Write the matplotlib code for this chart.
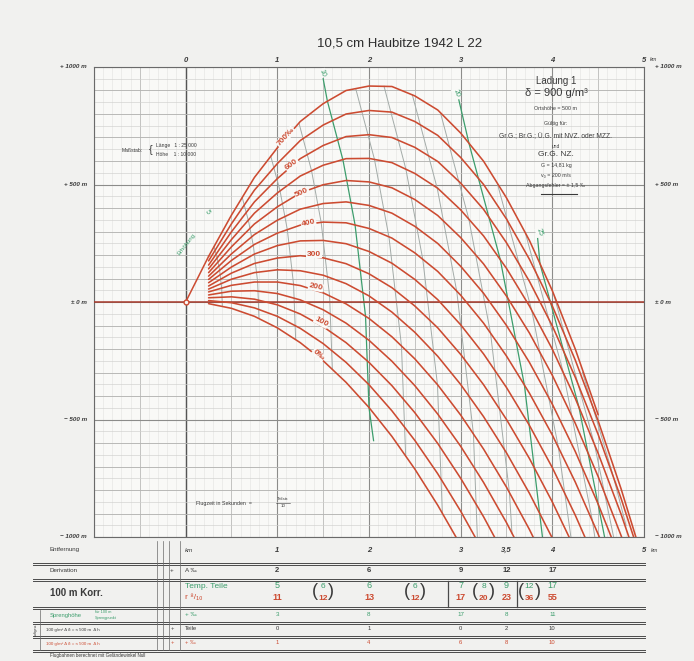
import matplotlib
matplotlib.use("Agg")
import matplotlib.pyplot as plt
import matplotlib.transforms as mtransforms
import numpy as np

plt.rcParams["font.family"] = ["Liberation Sans", "DejaVu Sans"]

TITLE = "10,5 cm Haubitze 1942 L 22"

# Flugbahnen: Erhöhung in Strich, Höhe in m bei TRAJ_X km
TRAJ_X = [0.25, 0.5, 0.75, 1.0, 1.25, 1.5, 1.75, 2.0, 2.25, 2.5,
          2.75, 3.0, 3.25, 3.5, 3.75, 4.0, 4.25, 4.5, 4.75, 5.0]
TRAJ_MILS = [0, 50, 100, 150, 200, 250, 300, 350, 400, 450, 500, 550, 600, 650, 700]
TRAJ_Y = [
    [-7, -27, -61, -110, -173, -250, -342, -449, -572, -711, -865, -1035],
    [6, -3, -25, -61, -112, -177, -257, -352, -463, -589, -731, -890, -1065],
    [18, 22, 12, -12, -51, -105, -173, -257, -356, -471, -602, -750, -914, -1095],
    [30, 46, 48, 36, 9, -33, -90, -163, -252, -356, -477, -614, -768, -939, -1127],
    [43, 71, 85, 85, 70, 39, -8, -70, -148, -242, -353, -481, -626, -788, -968, -1166],
    [55, 97, 125, 137, 133, 114, 78, 26, -43, -129, -231, -351, -488, -642, -814,
     -1005, -1215],
    [68, 123, 164, 187, 197, 188, 163, 120, 61, -17, -110, -223, -352, -500, -666,
     -851, -1055],
    [82, 149, 204, 240, 260, 262, 248, 215, 165, 96, 10, -97, -221, -364, -525,
     -705, -907, -1129],
    [96, 177, 245, 293, 327, 340, 337, 313, 272, 209, 130, 29, -90, -230, -388,
     -566, -766, -988, -1231],
    [110, 205, 287, 348, 395, 419, 426, 411, 378, 322, 249, 152, 37, -100, -257,
     -435, -636, -860, -1105],
    [125, 235, 332, 405, 464, 499, 517, 511, 486, 436, 368, 274, 162, 25, -132,
     -312, -516, -743, -994, -1268],
    [141, 266, 378, 464, 536, 582, 610, 611, 593, 547, 484, 392, 281, 143, -17,
     -201, -410, -644, -903, -1188],
    [157, 299, 426, 525, 610, 666, 704, 712, 700, 658, 598, 506, 394, 252, 88,
     -102, -320, -564, -836, -1136],
    [175, 333, 476, 589, 687, 753, 800, 815, 808, 768, 709, 615, 500, 353, 182,
     -17, -247, -506, -795, -1113],
    [194, 370, 530, 656, 768, 844, 900, 919, 917, 877, 817, 719, 599, 443, 262,
     48, -200, -480],
]

CURVE_LABELS = ["0‰", "100", "200", "300", "400", "500", "600", "700‰"]
CURVE_LABEL_X = [1.45, 1.48, 1.42, 1.40, 1.34, 1.27, 1.16, 1.09]
CURVE_LABEL_Y = [-225, -85, 64, 204, 336, 464, 583, 702]
CURVE_LABEL_ROT = [-40, -28, -12, 0, 12, 24, 36, 48]

# Flugzeitlinien (Sekunden)
ISO_T = [2, 4, 6, 8, 10, 12, 14, 16, 18, 20, 22, 24, 25, 26, 28]
ISO_X = [
    [0.309, 0.343, 0.370, 0.392, 0.400],
    [0.618, 0.686, 0.739, 0.785, 0.800],
    [0.928, 1.030, 1.109, 1.177, 1.200],
    [1.237, 1.373, 1.478, 1.570, 1.600],
    [1.500, 1.546, 1.716, 1.848, 1.962, 2.000, 2.050],
    [1.855, 2.059, 2.218, 2.354, 2.400],
    [2.164, 2.402, 2.587, 2.747, 2.800],
    [2.473, 2.746, 2.957, 3.139, 3.200],
    [2.783, 3.089, 3.326, 3.532, 3.560],
    [2.980, 3.092, 3.432, 3.696, 3.924],
    [3.401, 3.775, 4.066, 4.211],
    [3.710, 4.118, 4.436, 4.519],
    [3.840, 3.865, 4.290, 4.620],
    [4.020, 4.462, 4.739],
    [4.329, 4.656, 4.805],
]
ISO_Y = [
    [236, 188, 136, 61, -17],
    [443, 344, 238, 86, -70],
    [621, 472, 308, 75, -159],
    [760, 559, 339, 27, -285],
    [950, 855, 604, 328, -60, -450, -590],
    [908, 608, 276, -186, -654],
    [918, 566, 181, -352, -898],
    [881, 481, 46, -560, -1184],
    [800, 353, -133, -811, -986],
    [860, 673, 181, -355, -1105],
    [503, -35, -619, -1024],
    [288, -297, -928, -1147],
    [270, 163, -447, -1099],
    [26, -610, -1133],
    [-300, -729, -952],
]
GREEN_T = [10, 20, 25]
ISO_LABELS = ["10", "20", "25"]
ISO_LABEL_X = [1.49, 2.95, 3.86]
ISO_LABEL_Y = [974, 889, 298]

HEIGHT_TICKS = [1000, 500, 0, -500, -1000]
HEIGHT_LEFT = ["+ 1000 m", "+ 500 m", "± 0 m", "− 500 m", "− 1000 m"]
HEIGHT_RIGHT = ["+ 1000 m", "+ 500 m", "± 0 m", "− 500 m", "− 1000 m"]
KM_TICKS = [0, 1, 2, 3, 4]

# Tafel unter dem Bild
TAB_KM = [1, 2, 3, 3.5, 4]
TAB_KM_LABELS = ["1", "2", "3", "3,5", "4"]
TAB_DERIVATION = ["2", "6", "9", "12", "17"]
TAB_TEMP = ["5", "6", "7", "9", "17"]
TAB_R = ["11", "13", "17", "23", "55"]
TAB_MID_KM = [1.5, 2.5, 3.25, 3.75]
TAB_MID_TEMP = ["6", "6", "8", "12"]
TAB_MID_R = ["12", "12", "20", "36"]
TAB_SPRENG = ["3", "8", "17", "8", "11"]
TAB_ROW5 = ["0", "1", "0", "2", "10"]
TAB_ROW6 = ["1", "4", "6", "8", "10"]

BG = "#f1f1ef"
PLOT_BG = "#f9f9f7"
RED = "#cc4b31"
DARKRED = "#a83a2c"
GREEN = "#3c9d6c"
ISO_GREY = "#a3aba8"
INK = "#3a3a3a"

W, H = 694, 661


def fx(px):
    return px / W


def fy(py):
    return 1 - py / H


def draw_grid(ax):
    for xv in np.arange(-1, 5.001, 0.1):
        ax.axvline(xv, color="#e2e2e0", lw=0.4, zorder=0)
    for xv in np.arange(-1, 5.001, 0.5):
        ax.axvline(xv, color="#bdbdbb", lw=0.6, zorder=0)
    for xv in range(-1, 6):
        ax.axvline(xv, color="#8c8c8a", lw=0.8, zorder=0)
    ax.axvline(0, color="#555555", lw=1.0, zorder=0)
    for yv in np.arange(-1000, 1001, 50):
        ax.axhline(yv, color="#d0d0ce", lw=0.45, zorder=0)
    for yv in np.arange(-1000, 1001, 100):
        ax.axhline(yv, color="#b3b3b1", lw=0.6, zorder=0)
    for yv in np.arange(-1000, 1001, 500):
        ax.axhline(yv, color="#8c8c8a", lw=0.8, zorder=0)


def draw_chart(fig, ax, ov):
    ax.set_facecolor(PLOT_BG)
    ax.set_xlim(-1, 5)
    ax.set_ylim(-1000, 1000)
    ax.set_xticks([])
    ax.set_yticks([])
    for s in ax.spines.values():
        s.set_color("#6a6a6a")
        s.set_linewidth(0.8)

    draw_grid(ax)

    # Flugzeitlinien
    for t, xs, ys in zip(ISO_T, ISO_X, ISO_Y):
        if t in GREEN_T:
            ax.plot(xs, ys, color=GREEN, lw=0.9, zorder=2)
        else:
            ax.plot(xs, ys, color=ISO_GREY, lw=0.7, zorder=2)
    for lab, x, y in zip(ISO_LABELS, ISO_LABEL_X, ISO_LABEL_Y):
        ax.text(x, y, lab, color=GREEN, fontsize=5, rotation=-70,
                ha="center", va="center", zorder=4,
                bbox=dict(facecolor=PLOT_BG, edgecolor="none", pad=0.3))

    # Flugbahnen
    ax.axhline(0, color=DARKRED, lw=1.1, zorder=3)
    ax.plot([0, TRAJ_X[0]], [0, TRAJ_Y[-1][0]], color=RED, lw=1.1, zorder=3)
    for ys in TRAJ_Y:
        ax.plot(TRAJ_X[:len(ys)], ys, color=RED, lw=1.15, zorder=3,
                solid_capstyle="round", solid_joinstyle="round")
    ax.plot([0], [0], "o", color=RED, ms=3.5, mfc=PLOT_BG, mew=1.0, zorder=5)

    for lab, x, y, r in zip(CURVE_LABELS, CURVE_LABEL_X, CURVE_LABEL_Y, CURVE_LABEL_ROT):
        ax.text(x, y, lab, color=RED, fontsize=6, fontweight="bold",
                rotation=r, ha="center", va="center", rotation_mode="anchor",
                zorder=6, bbox=dict(facecolor=PLOT_BG, edgecolor="none", pad=0.4))

    ax.text(0.01, 247, "Erhöhung", color=GREEN, fontsize=4.3, rotation=52,
            ha="center", va="center", zorder=6)
    ax.text(0.23, 383, "5", color=GREEN, fontsize=5, rotation=-60,
            ha="center", va="center", zorder=6)

    # Achsbeschriftung
    for km in KM_TICKS:
        ax.text(km, 1012, str(km), fontsize=5.5, fontstyle="italic",
                fontweight="bold", color=INK, ha="center", va="bottom")
    ax.text(5, 1012, "5", fontsize=5.5, fontstyle="italic", fontweight="bold",
            color=INK, ha="center", va="bottom")
    ax.text(5.06, 1020, "km", fontsize=4, fontstyle="italic", color=INK,
            ha="left", va="bottom")
    for h, ll, rl in zip(HEIGHT_TICKS, HEIGHT_LEFT, HEIGHT_RIGHT):
        ax.text(-1.08, h, ll, fontsize=4.5, fontstyle="italic", fontweight="bold",
                color=INK, ha="right", va="center")
        ax.text(5.12, h, rl, fontsize=4.5, fontstyle="italic", fontweight="bold",
                color=INK, ha="left", va="center")

    # Massstab und Flugzeit
    ov.text(132, 150, "Maßstab:", fontsize=3.6, color=INK, ha="center", va="center")
    ov.text(151, 150, "{", fontsize=8, color=INK, ha="center", va="center")
    ov.text(156, 146, "Länge   1 : 25 000", fontsize=3.6, color=INK, ha="left", va="center")
    ov.text(156, 154, "Höhe    1 : 10 000", fontsize=3.6, color=INK, ha="left", va="center")
    ov.text(196, 503, "Flugzeit in Sekunden  =", fontsize=3.8, color=INK,
            ha="left", va="center")
    ov.text(283, 499, "Teilstr.", fontsize=3.2, color=INK, ha="center", va="center")
    ov.plot([276, 290], [502.5, 502.5], color=INK, lw=0.4)
    ov.text(283, 506, "10", fontsize=3.2, color=INK, ha="center", va="center")

    # Textblock rechts oben
    cx = 556
    ov.text(cx, 81, "Ladung 1", fontsize=7, color=INK, ha="center", va="center")
    ov.text(cx, 93, "δ = 900 g/m³", fontsize=8, color=INK, ha="center", va="center")
    ov.text(cx, 108, "Ortshöhe = 500 m", fontsize=3.8, color=INK, ha="center", va="center")
    ov.text(cx, 124, "Gültig für:", fontsize=3.8, color=INK, ha="center", va="center")
    ov.text(cx, 137, "Gr.G.; Br.G.; Ü.G. mit NVZ. oder MZZ.", fontsize=4.8,
            color=INK, ha="center", va="center")
    ov.text(cx, 146, "und", fontsize=3.5, color=INK, ha="center", va="center")
    ov.text(cx, 155, "Gr.G. NZ.", fontsize=6, color=INK, ha="center", va="center")
    ov.text(cx, 166, "G = 14,81 kg", fontsize=3.8, color=INK, ha="center", va="center")
    ov.text(cx, 175, "v₀ = 200 m/s", fontsize=3.8, color=INK, ha="center", va="center")
    ov.text(cx, 185, "Abgangsfehler = ± 1,5 ‰", fontsize=3.8, color=INK,
            ha="center", va="center")
    ov.plot([541, 577], [194, 194], color=INK, lw=0.8)

    ov.text(400, 43, TITLE, fontsize=9.5, color="#2c2c2c", ha="center", va="center")


def draw_table(fig, ax, ov):
    trans = mtransforms.blended_transform_factory(ax.transData, ov.transData)

    for y in [563, 579, 607, 622, 636, 650]:
        ov.plot([33, 645], [y, y], color="#4a4a4a", lw=0.7)
        ov.plot([33, 645], [y + 1.8, y + 1.8], color="#4a4a4a", lw=0.7)
    for x in [157, 163, 169, 180]:
        ov.plot([x, x], [541, 650], color="#6a6a6a", lw=0.5)
    for x in [448, 517]:
        ov.plot([x, x], [580.8, 607], color="#4a4a4a", lw=0.9)
    ov.plot([40, 40], [610, 650], color="#6a6a6a", lw=0.5)

    ov.text(50, 550, "Entfernung", fontsize=4.5, color=INK, va="center")
    ov.text(50, 571, "Derivation", fontsize=4.5, color=INK, va="center")
    ov.text(50, 593, "100 m Korr.", fontsize=7, fontweight="bold", color=INK, va="center")
    ov.text(50, 615, "Sprenghöhe", fontsize=4.2, color=GREEN, va="center")
    ov.text(95, 612, "für 100 m", fontsize=2.8, color=GREEN, va="center")
    ov.text(95, 617.5, "Sprengpunkt", fontsize=2.8, color=GREEN, va="center")
    ov.text(46, 629.5, "100 g/m³ Δ δ = ≈ 500 m  Δ h", fontsize=3.2, color=INK, va="center")
    ov.text(46, 643.5, "100 g/m³ Δ δ = ≈ 500 m  Δ h", fontsize=3.2, color=RED, va="center")
    ov.text(36, 630, "Luftgew.", fontsize=2.5, color=INK, rotation=90, ha="center", va="center")
    ov.text(50, 656, "Flugbahnen berechnet mit Geländewinkel Null", fontsize=3.3,
            color=INK, va="center")

    ov.text(185, 550, "km", fontsize=4.5, fontstyle="italic", color=INK, va="center")
    ov.text(172, 571, "+", fontsize=4.5, color=INK, va="center", ha="center")
    ov.text(185, 571, "A ‰", fontsize=4.5, color=INK, va="center")
    ov.text(185, 586, "Temp. Teile", fontsize=6, color=GREEN, va="center")
    ov.text(185, 598, "r ⁸/₁₀", fontsize=6, color=RED, va="center")
    ov.text(185, 614, "+ ‰", fontsize=4.5, color=GREEN, va="center")
    ov.text(172, 629, "+", fontsize=4.2, color=INK, va="center", ha="center")
    ov.text(185, 629, "Teile", fontsize=4.2, color=INK, va="center")
    ov.text(172, 643, "+", fontsize=4.2, color=RED, va="center", ha="center")
    ov.text(185, 643, "+ ‰", fontsize=4.2, color=RED, va="center")

    for km, lab in zip(TAB_KM, TAB_KM_LABELS):
        ax.text(km, 550, lab, transform=trans, fontsize=5.5, fontstyle="italic",
                fontweight="bold", color=INK, ha="center", va="center")
    ax.text(5, 550, "5", transform=trans, fontsize=5.5, fontstyle="italic",
            fontweight="bold", color=INK, ha="center", va="center")
    ax.text(5.07, 550, "km", transform=trans, fontsize=4, fontstyle="italic",
            color=INK, ha="left", va="center")

    for km, d, tt, rr, sp, r5, r6 in zip(TAB_KM, TAB_DERIVATION, TAB_TEMP, TAB_R,
                                         TAB_SPRENG, TAB_ROW5, TAB_ROW6):
        ax.text(km, 571, d, transform=trans, fontsize=5.5, fontweight="bold",
                color=INK, ha="center", va="center")
        ax.text(km, 586, tt, transform=trans, fontsize=6.5, color=GREEN,
                ha="center", va="center")
        ax.text(km, 598, rr, transform=trans, fontsize=6.5, fontweight="bold",
                color=RED, ha="center", va="center")
        ax.text(km, 615, sp, transform=trans, fontsize=4.5, color=GREEN,
                ha="center", va="center")
        ax.text(km, 629, r5, transform=trans, fontsize=4.2, color=INK,
                ha="center", va="center")
        ax.text(km, 643, r6, transform=trans, fontsize=4.2, color=RED,
                ha="center", va="center")

    for km, tt, rr in zip(TAB_MID_KM, TAB_MID_TEMP, TAB_MID_R):
        ax.text(km, 586, tt, transform=trans, fontsize=6, color=GREEN,
                ha="center", va="center")
        ax.text(km, 598, rr, transform=trans, fontsize=6, fontweight="bold",
                color=RED, ha="center", va="center")
        ax.text(km - 0.09, 592, "(", transform=trans, fontsize=13, color=INK,
                ha="center", va="center", fontweight="light")
        ax.text(km + 0.09, 592, ")", transform=trans, fontsize=13, color=INK,
                ha="center", va="center", fontweight="light")


def main():
    fig = plt.figure(figsize=(W / 100, H / 100), dpi=100, facecolor=BG)
    ax = fig.add_axes([fx(94), fy(537), fx(644) - fx(94), fy(67) - fy(537)])
    ov = fig.add_axes([0, 0, 1, 1], zorder=5)
    ov.set_xlim(0, W)
    ov.set_ylim(H, 0)
    ov.axis("off")
    ov.patch.set_alpha(0)

    draw_chart(fig, ax, ov)
    draw_table(fig, ax, ov)

    fig.savefig("out.png", dpi=100, facecolor=BG)
    plt.close(fig)


if __name__ == "__main__":
    main()
